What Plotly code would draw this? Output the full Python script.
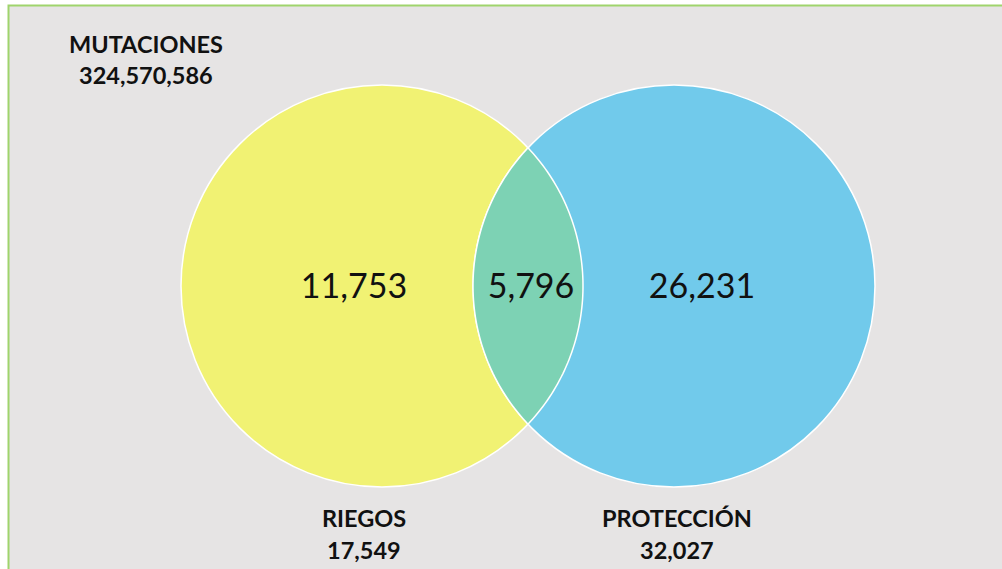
import numpy as np
import plotly.graph_objects as go

# Venn diagram data
set_names = ["RIEGOS", "PROTECCIÓN"]
set_totals = [17549, 32027]
region_counts = [11753, 5796, 26231]   # only left, both, only right
universe_name = "MUTACIONES"
universe_total = 324570586

W, H = 1002, 569

# circle geometry (pixel space)
centers = [(382.0, 286.0), (674.0, 286.0)]
radius = 201.0
fill_colors = ["#f1f273", "#71caeb"]
overlap_color = "#7dd2b4"
bg_color = "#e6e4e4"
frame_color = "#9fd46c"

def fmt(v):
    return f"{v:,}"

fig = go.Figure()

shapes = []
# panel background with green frame
shapes.append(dict(type="rect", xref="x", yref="y", x0=8.5, y0=5.5, x1=W + 5, y1=H + 5,
                   fillcolor=bg_color, line=dict(color=frame_color, width=2), layer="below"))

for (cx, cy), col in zip(centers, fill_colors):
    shapes.append(dict(type="circle", xref="x", yref="y",
                       x0=cx - radius, x1=cx + radius, y0=cy - radius, y1=cy + radius,
                       fillcolor=col, line=dict(color="white", width=1.5), layer="below"))

# lens-shaped overlap built from the two arcs
(x1, y1), (x2, y2) = centers
d = x2 - x1
a = d / 2
h = np.sqrt(radius ** 2 - a ** 2)
mx = x1 + a
phi_l = np.arctan2(h, a)           # arc of left circle (right side)
phi_r = np.arctan2(h, -a)          # arc of right circle (left side)
t1 = np.linspace(-phi_l, phi_l, 80)
arc1 = [(x1 + radius * np.cos(t), y1 + radius * np.sin(t)) for t in t1]
t2 = np.linspace(phi_r, 2 * np.pi - phi_r, 80)
arc2 = [(x2 + radius * np.cos(t), y2 + radius * np.sin(t)) for t in t2]
pts = arc1 + arc2
path = "M " + " L ".join(f"{px:.2f},{py:.2f}" for px, py in pts) + " Z"
shapes.append(dict(type="path", xref="x", yref="y", path=path,
                   fillcolor=overlap_color, line=dict(color="white", width=1.5), layer="below"))

fig.update_layout(shapes=shapes)

# region counts inside the circles
region_x = [354, mx + 3, 702]
fig.add_trace(go.Scatter(
    x=region_x, y=[289] * 3, mode="text",
    text=[fmt(v) for v in region_counts],
    textfont=dict(family="Lato, sans-serif", size=34, color="#111111"),
    hoverinfo="skip", showlegend=False))

# set labels below circles
label_font = dict(family="Lato, sans-serif", size=23.5, color="#111111")
annotations = []
for cx, name, tot in zip([364, 677], set_names, set_totals):
    annotations.append(dict(x=cx, y=518, xref="x", yref="y", text=f"<b>{name}</b>",
                            showarrow=False, font=label_font))
    annotations.append(dict(x=cx, y=550, xref="x", yref="y", text=f"<b>{fmt(tot)}</b>",
                            showarrow=False, font=label_font))
annotations.append(dict(x=146, y=44, xref="x", yref="y", text=f"<b>{universe_name}</b>",
                        showarrow=False, font=label_font))
annotations.append(dict(x=146, y=75, xref="x", yref="y", text=f"<b>{fmt(universe_total)}</b>",
                        showarrow=False, font=label_font))

fig.update_layout(
    annotations=annotations,
    width=W, height=H,
    margin=dict(l=0, r=0, t=0, b=0),
    paper_bgcolor="white", plot_bgcolor="white",
    xaxis=dict(range=[0, W], visible=False, fixedrange=True),
    yaxis=dict(range=[H, 0], visible=False, fixedrange=True),
    showlegend=False,
)

fig.write_html("out.html", config={"displayModeBar": False})
